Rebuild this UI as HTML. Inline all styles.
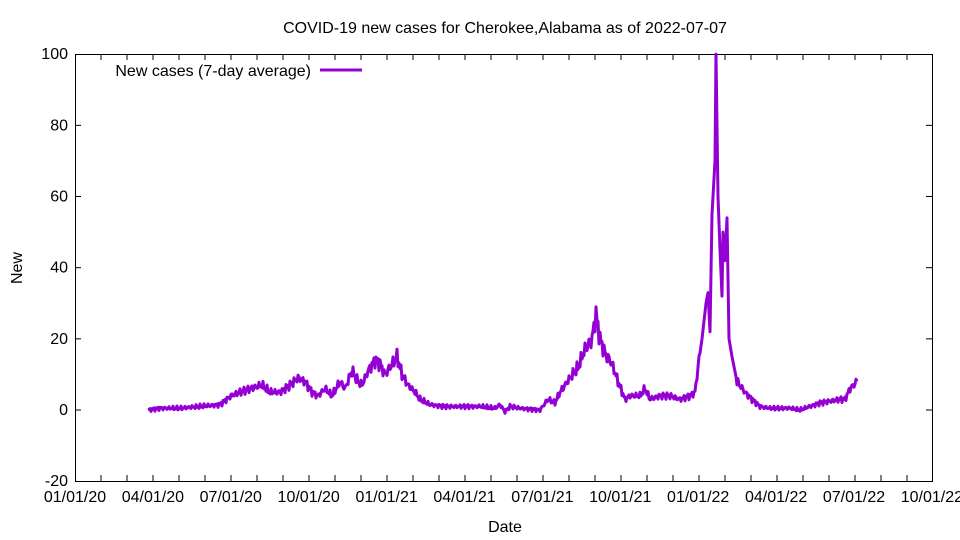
<!DOCTYPE html>
<html><head><meta charset="utf-8"><style>
html,body{margin:0;padding:0;background:#fff}
svg{display:block;font-family:"Liberation Sans",sans-serif}
</style></head><body>
<svg id="s" width="960" height="540" xmlns="http://www.w3.org/2000/svg">
<rect width="960" height="540" fill="#fff"/>
<text x="505" y="33" font-size="16" text-anchor="middle">COVID-19 new cases for Cherokee,Alabama as of 2022-07-07</text>
<g id="ax" stroke="#000" stroke-width="1" fill="none"></g>
<rect x="75.5" y="54.5" width="857" height="427" fill="none" stroke="#000"/>
<g font-size="16" text-anchor="end" id="yl"></g>
<g font-size="16" text-anchor="middle" id="xl"></g>
<text x="505" y="532" font-size="16" text-anchor="middle">Date</text>
<text x="22" y="268" font-size="16" text-anchor="middle" transform="rotate(-90 22 268)">New</text>
<text x="311" y="76" font-size="16" text-anchor="end">New cases (7-day average)</text>
<line x1="320" y1="70" x2="362" y2="70" stroke="#9400d3" stroke-width="3"/>
<polyline id="p" fill="none" stroke="#9400d3" stroke-width="3" stroke-linejoin="round"/>
</svg>
<script>
var NS="http://www.w3.org/2000/svg";
function el(t,a,p,txt){var e=document.createElementNS(NS,t);for(var k in a)e.setAttribute(k,a[k]);if(txt)e.textContent=txt;document.getElementById(p).appendChild(e);}
function Y(v){return 410-v*3.558;}
for(var v=-20;v<=100;v+=20){var y=Y(v);el('text',{x:68,y:y+5},'yl',''+v);
 if(v>-20&&v<100){el('line',{x1:75,y1:y,x2:81,y2:y},'ax');el('line',{x1:932,y1:y,x2:926,y2:y},'ax');}}
var lab=["01/01/20","04/01/20","07/01/20","10/01/20","01/01/21","04/01/21","07/01/21","10/01/21","01/01/22","04/01/22","07/01/22","10/01/22"];
for(var i=0;i<lab.length;i++){var x=75+i*77.9;el('text',{x:x,y:502},'xl',lab[i]);}
for(var i=1;i<33;i++){var x=75+i*26;el('line',{x1:x,y1:54,x2:x,y2:60},'ax');el('line',{x1:x,y1:481,x2:x,y2:475},'ax');}
var k=[[148,0],[160,0.5],[180,0.5],[200,1],[220,1.5],[231,4],[240,5],[250,6],[262,7],[270,5],[280,5],[290,7],[298,9],[305,8],[312,5],[318,4],[325,6],[332,4],[340,8],[345,6],[352,11],[358,8],[362,7],[368,11],[375,14],[380,13],[385,10],[390,12],[397,15],[402,10],[408,7],[415,5],[420,3],[430,1.5],[445,1],[460,1],[480,1],[495,0.5],[500,1.5],[505,-0.5],[510,1],[520,0.5],[540,0],[548,3],[555,2],[560,5],[570,9],[578,12],[585,17],[592,20],[596,27],[600,20],[605,16],[612,13],[618,8],[625,3],[630,4],[640,4],[645,6],[650,3],[660,4],[670,4],[680,3],[690,4],[695,5],[698,12],[702,20],[706,30],[708,33],[710,22],[712,55],[715,70],[716,100],[718,60],[720,45],[722,32],[723,50],[725,42],[727,54],[729,20],[732,15],[737,8],[745,5],[752,3],[760,1],[770,0.5],[790,0.5],[800,0],[810,1],[820,2],[830,2.5],[840,3],[845,3],[850,6],[857,8]];
var pts=[];
for(var i=0;i<k.length-1;i++){var a=k[i],b=k[i+1];for(var x=a[0];x<b[0];x++){var t=(x-a[0])/(b[0]-a[0]);var v=a[1]+(b[1]-a[1])*t;
 var n=(x<700||x>735)?Math.sin(x*2.3)*Math.sin(x*0.7)*(0.6+v*0.12):0;pts.push(x+','+Y(v+n).toFixed(1));}}
pts.push('857,'+Y(8));
document.getElementById('p').setAttribute('points',pts.join(' '));
</script>
</body></html>
